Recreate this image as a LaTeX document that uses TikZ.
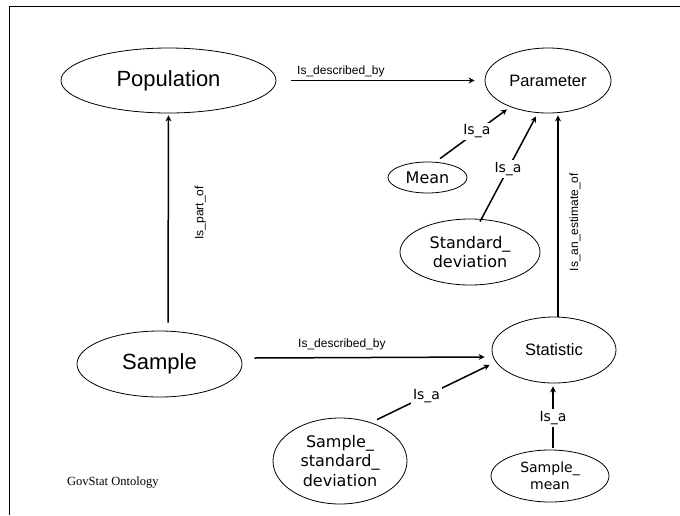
\documentclass[tikz,border=0pt]{standalone}
\usepackage{fontspec}
\usetikzlibrary{shapes.geometric,arrows.meta,calc}
\newfontfamily\arialf{Liberation Sans}
\newfontfamily\dejaf{DejaVu Sans}
\newfontfamily\serff{Liberation Serif}
\begin{document}
\begin{tikzpicture}[x=1pt,y=-1pt,
  ell/.style={draw, ellipse, line width=0.8pt, inner sep=0pt, align=center},
  big/.style={font=\arialf\fontsize{22}{26}\selectfont},
  mid/.style={font=\arialf\fontsize{16.5}{19}\selectfont},
  dv/.style={font=\dejaf\fontsize{16}{19.5}\selectfont},
  dvs/.style={font=\dejaf\fontsize{14}{17}\selectfont},
  arr/.style={line width=1.5pt, -{Stealth[length=6pt,width=6pt]}},
  lbl/.style={font=\arialf\fontsize{12}{14}\selectfont, inner sep=1pt},
  isa/.style={font=\dejaf\fontsize{14}{16}\selectfont, fill=white, inner sep=2pt}]
\useasboundingbox (0,0) rectangle (680,515);
\draw[line width=1.6pt] (680,6.5) -- (9.5,6.5) -- (9.5,515);

\node[ell, big, minimum width=215pt, minimum height=65pt] (pop) at (168.5,80.5) {Population};
\node[ell, mid, minimum width=126pt, minimum height=65pt] (par) at (548,80.5) {Parameter};
\node[ell, dv, minimum width=79pt, minimum height=31pt] (mean) at (427.5,177.5) {Mean};
\node[ell, dv, minimum width=140pt, minimum height=66pt] (std) at (470,252) {Standard\_\\deviation};
\node[ell, big, minimum width=165pt, minimum height=66pt] (samp) at (159.5,364) {Sample};
\node[ell, mid, minimum width=124pt, minimum height=66pt] (stat) at (554,350) {Statistic};
\node[ell, dv, minimum width=134pt, minimum height=86pt] (sstd) at (340,461) {Sample\_\\standard\_\\deviation};
\node[ell, dvs, minimum width=118pt, minimum height=52pt] (smean) at (550,476) {Sample\_\\mean};
\node[font=\serff\fontsize{12.5}{14}\selectfont, anchor=west, inner sep=0pt] (gov) at (67,483) {GovStat Ontology};

\draw[arr] ($(pop.east)+(15,0)$) -- ($(par.west)+(-10,0)$)
  node[lbl, pos=0.27, yshift=9pt] {Is\_described\_by};
\draw[arr] ($(samp.east)+(12,-6)$) -- ($(stat.west)+(-7,7)$)
  node[lbl, pos=0.38, yshift=13pt] {Is\_described\_by};
\draw[arr] ($(samp.north)+(8.5,-8)$) -- ($(pop.south)+(0,2)$)
  node[lbl, pos=0.53, xshift=32pt, rotate=90] {Is\_part\_of};
\draw[arr] ($(stat.north)+(4,0)$) -- ($(par.south)+(10,2)$)
  node[lbl, pos=0.47, xshift=17pt, rotate=90] {Is\_an\_estimate\_of};
\draw[arr] ($(mean.north)+(12.5,-3)$) -- ($(par.south)+(-41,-4)$)
  node[isa, pos=0.55] {Is\_a};
\draw[arr] ($(std.north)+(10,3)$) -- ($(par.south)+(-12,3)$)
  node[isa, pos=0.5] {Is\_a};
\draw[arr] ($(sstd.north)+(37,2)$) -- ($(stat.west)+(-2,15)$)
  node[isa, pos=0.44] {Is\_a};
\draw[arr] ($(smean.north)+(3,-2)$) -- ($(stat.south)+(-1,3)$)
  node[isa, pos=0.48] {Is\_a};
\end{tikzpicture}
\end{document}
